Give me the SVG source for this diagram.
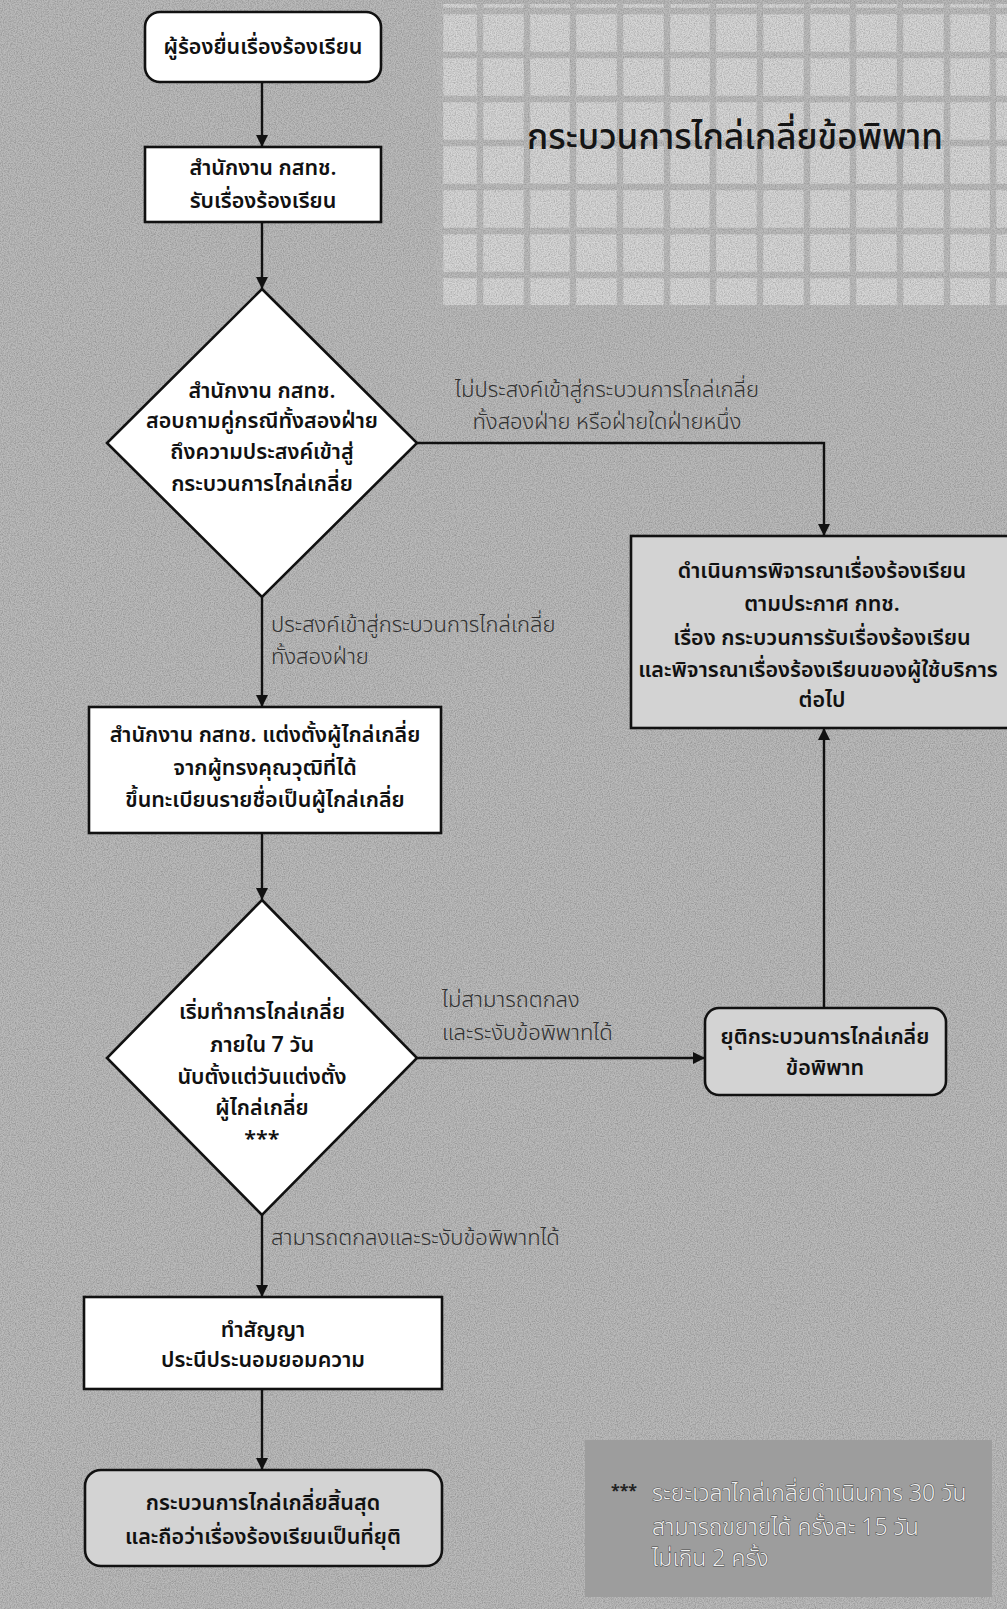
<svg xmlns="http://www.w3.org/2000/svg" width="1007" height="1609" viewBox="0 0 1007 1609">
<style>
  .node { stroke: #111; stroke-width: 2.6; }
  .white { fill: #ffffff; }
  .light { fill: #d3d3d3; }
  .ntext { font-family: 'Noto Sans Thai', 'Noto Sans', 'DejaVu Sans', sans-serif; font-size: 21.5px; font-weight: 600; fill: #111; text-anchor: middle; }
  .label { font-family: 'Noto Sans Thai', 'Noto Sans', 'DejaVu Sans', sans-serif; font-size: 22px; font-weight: 300; fill: #303030; }
  .note { font-family: 'Noto Sans Thai', 'Noto Sans', 'DejaVu Sans', sans-serif; font-size: 23px; font-weight: 300; fill: #eeeeee; stroke: #4a4a4a; stroke-width: 1; paint-order: stroke; }
  .title { font-family: 'Noto Sans Thai', 'Noto Sans', 'DejaVu Sans', sans-serif; font-size: 35px; font-weight: 500; fill: #151515; text-anchor: middle; }
  .conn { fill: none; stroke: #111; stroke-width: 2.4; }
  .grid { stroke: #bcbcbc; stroke-width: 6.5; }
</style>
<defs>
  <marker id="arr" viewBox="0 0 10 10" refX="10" refY="5" markerWidth="5" markerHeight="5" orient="auto" markerUnits="strokeWidth">
    <path d="M0,0 L10,5 L0,10 z" fill="#111"/>
  </marker>
  <filter id="noise" x="0" y="0" width="100%" height="100%">
    <feTurbulence type="fractalNoise" baseFrequency="0.85" numOctaves="2" seed="4"/>
    <feColorMatrix type="matrix" values="0 0 0 0 0  0 0 0 0 0  0 0 0 0 0  1.4 0 0 0 -0.5"/>
  </filter>
</defs>

<!-- background -->
<rect x="0" y="0" width="1007" height="1609" fill="#bababa"/>
<g id="grid-area">
  <rect x="437" y="4" width="570" height="301" fill="#d6d6d6"/>
  <g class="grid">
    <line x1="440" y1="4" x2="440" y2="305"/>
    <line x1="480" y1="4" x2="480" y2="305"/>
    <line x1="527" y1="4" x2="527" y2="305"/>
    <line x1="573" y1="4" x2="573" y2="305"/>
    <line x1="620" y1="4" x2="620" y2="305"/>
    <line x1="667" y1="4" x2="667" y2="305"/>
    <line x1="713" y1="4" x2="713" y2="305"/>
    <line x1="760" y1="4" x2="760" y2="305"/>
    <line x1="807" y1="4" x2="807" y2="305"/>
    <line x1="853" y1="4" x2="853" y2="305"/>
    <line x1="900" y1="4" x2="900" y2="305"/>
    <line x1="947" y1="4" x2="947" y2="305"/>
    <line x1="993" y1="4" x2="993" y2="305"/>
    <line x1="437" y1="11" x2="1007" y2="11"/>
    <line x1="437" y1="55" x2="1007" y2="55"/>
    <line x1="437" y1="99" x2="1007" y2="99"/>
    <line x1="437" y1="143" x2="1007" y2="143"/>
    <line x1="437" y1="187" x2="1007" y2="187"/>
    <line x1="437" y1="231" x2="1007" y2="231"/>
    <line x1="437" y1="275" x2="1007" y2="275"/>
  </g>
</g>
<rect x="0" y="0" width="1007" height="1609" filter="url(#noise)" opacity="0.28"/>

<text class="title" x="735" y="149">กระบวนการไกล่เกลี่ยข้อพิพาท</text>

<!-- connectors -->
<g id="connectors">
  <path class="conn" d="M262,82 L262,147" marker-end="url(#arr)"/>
  <path class="conn" d="M262,222 L262,289" marker-end="url(#arr)"/>
  <path class="conn" d="M417,443 L824,443 L824,536" marker-end="url(#arr)"/>
  <path class="conn" d="M262,597 L262,707" marker-end="url(#arr)"/>
  <path class="conn" d="M262,833 L262,900" marker-end="url(#arr)"/>
  <path class="conn" d="M417,1058 L705,1058" marker-end="url(#arr)"/>
  <path class="conn" d="M824,1008 L824,728" marker-end="url(#arr)"/>
  <path class="conn" d="M262,1215 L262,1297" marker-end="url(#arr)"/>
  <path class="conn" d="M262,1389 L262,1470" marker-end="url(#arr)"/>
  <text class="label" x="607" y="397" text-anchor="middle">ไม่ประสงค์เข้าสู่กระบวนการไกล่เกลี่ย</text>
  <text class="label" x="607" y="429" text-anchor="middle">ทั้งสองฝ่าย หรือฝ่ายใดฝ่ายหนึ่ง</text>
  <text class="label" x="271" y="632">ประสงค์เข้าสู่กระบวนการไกล่เกลี่ย</text>
  <text class="label" x="271" y="664">ทั้งสองฝ่าย</text>
  <text class="label" x="442" y="1007">ไม่สามารถตกลง</text>
  <text class="label" x="442" y="1040">และระงับข้อพิพาทได้</text>
  <text class="label" x="271" y="1245">สามารถตกลงและระงับข้อพิพาทได้</text>
</g>

<g id="n1">
  <rect class="node white" x="145" y="12" width="236" height="70" rx="15"/>
  <text class="ntext" x="263" y="54">ผู้ร้องยื่นเรื่องร้องเรียน</text>
</g>
<g id="n2">
  <rect class="node white" x="145" y="147" width="236" height="75"/>
  <text class="ntext" x="263" y="175">สำนักงาน กสทช.</text>
  <text class="ntext" x="263" y="208">รับเรื่องร้องเรียน</text>
</g>
<g id="d1">
  <polygon class="node white" points="262,289 417,443 262,597 107,443"/>
  <text class="ntext" x="262" y="398">สำนักงาน กสทช.</text>
  <text class="ntext" x="262" y="428">สอบถามคู่กรณีทั้งสองฝ่าย</text>
  <text class="ntext" x="262" y="459">ถึงความประสงค์เข้าสู่</text>
  <text class="ntext" x="262" y="491">กระบวนการไกล่เกลี่ย</text>
</g>
<g id="n3">
  <rect class="node light" x="631" y="536" width="380" height="192"/>
  <text class="ntext" x="822" y="578">ดำเนินการพิจารณาเรื่องร้องเรียน</text>
  <text class="ntext" x="822" y="611">ตามประกาศ กทช.</text>
  <text class="ntext" x="822" y="645">เรื่อง กระบวนการรับเรื่องร้องเรียน</text>
  <text class="ntext" x="818" y="677">และพิจารณาเรื่องร้องเรียนของผู้ใช้บริการ</text>
  <text class="ntext" x="822" y="707">ต่อไป</text>
</g>
<g id="n4">
  <rect class="node white" x="89" y="707" width="352" height="126"/>
  <text class="ntext" x="265" y="742">สำนักงาน กสทช. แต่งตั้งผู้ไกล่เกลี่ย</text>
  <text class="ntext" x="265" y="775">จากผู้ทรงคุณวุฒิที่ได้</text>
  <text class="ntext" x="265" y="807">ขึ้นทะเบียนรายชื่อเป็นผู้ไกล่เกลี่ย</text>
</g>
<g id="d2">
  <polygon class="node white" points="262,900 417,1058 262,1215 107,1058"/>
  <text class="ntext" x="262" y="1019">เริ่มทำการไกล่เกลี่ย</text>
  <text class="ntext" x="262" y="1052">ภายใน 7 วัน</text>
  <text class="ntext" x="262" y="1084">นับตั้งแต่วันแต่งตั้ง</text>
  <text class="ntext" x="262" y="1115">ผู้ไกล่เกลี่ย</text>
  <text class="ntext" x="262" y="1146">***</text>
</g>
<g id="n5">
  <rect class="node light" x="705" y="1008" width="241" height="87" rx="14"/>
  <text class="ntext" x="825" y="1044">ยุติกระบวนการไกล่เกลี่ย</text>
  <text class="ntext" x="825" y="1075">ข้อพิพาท</text>
</g>
<g id="n6">
  <rect class="node white" x="84" y="1297" width="358" height="92"/>
  <text class="ntext" x="263" y="1337">ทำสัญญา</text>
  <text class="ntext" x="263" y="1367">ประนีประนอมยอมความ</text>
</g>
<g id="n7">
  <rect class="node light" x="85" y="1470" width="357" height="96" rx="16"/>
  <text class="ntext" x="263" y="1510">กระบวนการไกล่เกลี่ยสิ้นสุด</text>
  <text class="ntext" x="263" y="1544">และถือว่าเรื่องร้องเรียนเป็นที่ยุติ</text>
</g>
<g id="note">
  <rect x="585" y="1440" width="407" height="157" fill="#9d9d9d"/>
  <text x="611" y="1496" font-family="'Noto Sans', 'DejaVu Sans', sans-serif" font-size="16" font-weight="700" fill="#222">***</text>
  <text class="note" x="652" y="1501">ระยะเวลาไกล่เกลี่ยดำเนินการ 30 วัน</text>
  <text class="note" x="652" y="1535">สามารถขยายได้ ครั้งละ 15 วัน</text>
  <text class="note" x="652" y="1566">ไม่เกิน 2 ครั้ง</text>
</g>
</svg>
